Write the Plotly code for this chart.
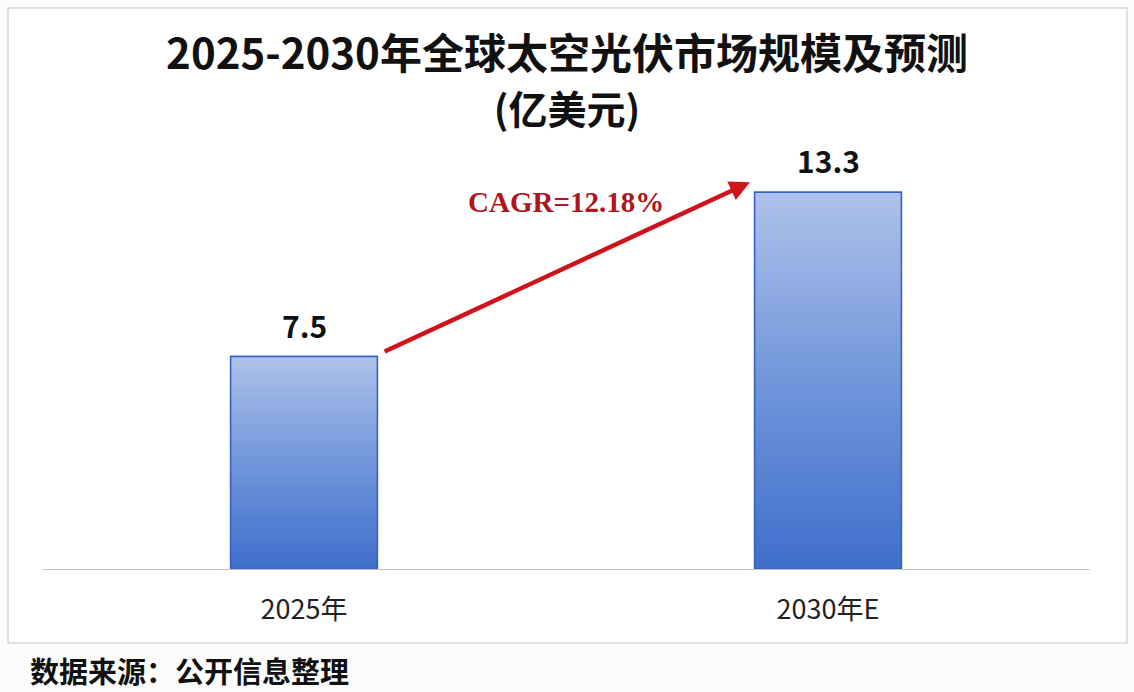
import plotly.graph_objects as go

categories = ["2025年", "2030年E"]
values = [7.5, 13.3]
cagr_label = "CAGR=12.18%"
title_line1 = "2025-2030年全球太空光伏市场规模及预测"
title_line2 = "(亿美元)"
source_text = "数据来源：公开信息整理"

BAR_W = 0.28
CJK = "Noto Sans CJK SC"

fig = go.Figure()
xs = list(range(len(categories)))

fig.add_trace(go.Bar(
    x=xs, y=values, width=BAR_W,
    marker=dict(color="#7596D8", line=dict(color="#3562C4", width=1.5)),
    hoverinfo="skip", showlegend=False,
))

# gradient overlay for each bar, built from the same data
for i, v in zip(xs, values):
    x0, x1 = i - BAR_W / 2, i + BAR_W / 2
    fig.add_trace(go.Scatter(
        x=[x0, x1, x1, x0, x0], y=[0, 0, v, v, 0],
        mode="lines", fill="toself",
        fillgradient=dict(type="vertical",
                          colorscale=[[0, "#3F6ECB"], [0.5, "#7196DA"], [1, "#AEC2EA"]]),
        line=dict(color="#3562C4", width=1.5),
        hoverinfo="skip", showlegend=False,
    ))

annotations = []
for i, v in zip(xs, values):
    annotations.append(dict(
        x=i, y=v, xref="x", yref="y", text=f"{v:g}", showarrow=False,
        yanchor="middle", yshift=32,
        font=dict(family=CJK, size=30, color="#111111", weight="bold"),
    ))

# CAGR arrow
annotations.append(dict(
    x=0.851, y=13.65, ax=0.151, ay=7.65, xref="x", yref="y", axref="x", ayref="y",
    text="", showarrow=True, arrowhead=2, arrowsize=0.9, arrowwidth=4.5,
    arrowcolor="#D0121B",
))
annotations.append(dict(
    x=0.5, y=12.95, xref="x", yref="y", text=cagr_label, showarrow=False,
    font=dict(family="Liberation Serif", size=29, color="#B0141C", weight="bold"),
))

annotations.append(dict(
    x=(28 - 42) / 1048, y=(569 - 670) / 425, xref="paper", yref="paper",
    text=source_text, showarrow=False, xanchor="left", yanchor="middle",
    font=dict(family=CJK, size=29, color="#111111", weight="bold"),
))

fig.update_layout(
    width=1134, height=692,
    margin=dict(l=42, r=44, t=144, b=123),
    paper_bgcolor="#FCFCFD", plot_bgcolor="#FFFFFF",
    title=dict(text=f"{title_line1}<br><span style='font-size:39px'>{title_line2}</span>",
               x=0.5, xanchor="center", y=1 - 69 / 692, yanchor="middle",
               font=dict(family=CJK, size=42, color="#111111", weight="bold")),
    annotations=annotations,
    shapes=[dict(type="rect", xref="paper", yref="paper",
                 x0=(8 - 42) / 1048, x1=(1127 - 42) / 1048,
                 y0=(569 - 643) / 425, y1=(569 - 8) / 425,
                 line=dict(color="#D6D6D6", width=1.5), fillcolor="#FFFFFF",
                 layer="below")],
    xaxis=dict(range=[-0.5, 1.5], tickmode="array", tickvals=xs, ticktext=categories,
               showgrid=False, zeroline=False, showline=True, linecolor="#C4C4C4",
               linewidth=1.2, ticks="", ticklabelstandoff=16,
               tickfont=dict(family=CJK, size=27, color="#222222")),
    yaxis=dict(range=[0, 15], visible=False, showgrid=False, zeroline=False),
    showlegend=False,
)

fig.write_html("out.html", config={"displayModeBar": False},
               post_script="document.body.style.margin='0';document.body.style.overflow='hidden';")
